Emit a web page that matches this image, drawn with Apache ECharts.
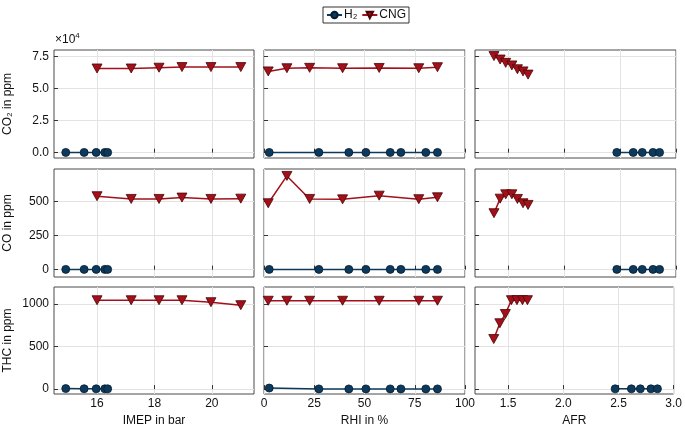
<!DOCTYPE html>
<html>
<head>
<meta charset="utf-8">
<script src="https://cdn.jsdelivr.net/npm/echarts@6/dist/echarts.min.js"></script>
<style>html,body{margin:0;padding:0;background:#fff;}#c{width:685px;height:428px;}</style>
</head>
<body>
<div id="c"></div>
<script>
// ---- data ----
const seriesNames = ['H₂', 'CNG'];
const xNames = ['IMEP in bar', 'RHI in %', 'AFR'];
const yNames = ['CO₂ in ppm', 'CO in ppm', 'THC in ppm'];

const xTicksImep = [16, 18, 20];
const xTicksRhi = [0, 25, 50, 75, 100];
const xTicksAfr = [1.5, 2.0, 2.5, 3.0];
const yTicksCO2 = [0, 25000, 50000, 75000];
const yTicksCO = [0, 250, 500];
const yTicksTHC = [0, 500, 1000];

// IMEP sweep
const h2Imep = [14.91, 15.55, 15.97, 16.27, 16.37];
const h2ImepCO2 = [150, 150, 150, 150, 150];
const h2ImepCO = [2, 2, 2, 2, 2];
const h2ImepTHC = [6, 4, 3, 3, 3];
const cngImep = [16.0, 17.19, 18.16, 18.96, 19.97, 21.01];
const cngImepCO2 = [65800, 65800, 66400, 66900, 66900, 66900];
const cngImepCO = [540, 520, 520, 530, 520, 522];
const cngImepTHC = [1046, 1046, 1046, 1046, 1023, 988];

// RHI sweep
const h2Rhi = [2.6, 27.3, 42.2, 50.7, 62.8, 68.1, 80.5, 86.3];
const h2RhiCO2 = [150, 150, 150, 150, 150, 150, 150, 150];
const h2RhiCO = [2, 2, 2, 2, 2, 2, 2, 2];
const h2RhiTHC = [12, 2, 2, 2, 2, 2, 2, 2];
const cngRhi = [2.1, 11.4, 22.7, 39.1, 57.3, 77.0, 86.3];
const cngRhiCO2 = [63500, 66000, 66300, 66000, 66200, 66000, 66800];
const cngRhiCO = [488, 689, 520, 517, 544, 518, 532];
const cngRhiTHC = [1040, 1040, 1040, 1040, 1040, 1040, 1040];

// AFR sweep
const h2Afr = [2.47, 2.617, 2.698, 2.794, 2.853];
const h2AfrCO2 = [150, 150, 150, 150, 150];
const h2AfrCO = [2, 2, 2, 2, 2];
const h2AfrTHC = [3, 3, 3, 3, 3];
const cngAfr = [1.37, 1.425, 1.475, 1.53, 1.58, 1.63, 1.675];
const cngAfrCO2 = [75500, 72800, 70200, 68200, 65200, 63500, 61000];
const cngAfrCO = [415, 522, 554, 554, 520, 488, 476];
const cngAfrTHC = [589, 775, 884, 1047, 1047, 1047, 1047];

// ---- chart ----
const FONT = 'Liberation Sans, Arial, sans-serif';
const H2C = '#0d3a5c', CNGC = '#a3101a';
const cols = [{left: 54, width: 200}, {left: 264, width: 201}, {left: 475, width: 201}];
const rows = [{top: 50, height: 108}, {top: 169, height: 108}, {top: 287, height: 108}];

const xCfg = [
  {min: 14.5, max: 21.47, ticks: xTicksImep, fmt: v => String(v)},
  {min: 0, max: 100, ticks: xTicksRhi, fmt: v => String(v)},
  {min: 1.2, max: 3.0, ticks: xTicksAfr, fmt: v => v.toFixed(1)}
];
const yCfg = [
  {min: -4200, max: 80250, ticks: yTicksCO2, fmt: v => (v / 1e4).toFixed(1)},
  {min: -54, max: 740, ticks: yTicksCO, fmt: v => String(v)},
  {min: -58, max: 1202, ticks: yTicksTHC, fmt: v => String(v)}
];

const panelData = [
  [[h2Imep, h2ImepCO2, cngImep, cngImepCO2], [h2Rhi, h2RhiCO2, cngRhi, cngRhiCO2], [h2Afr, h2AfrCO2, cngAfr, cngAfrCO2]],
  [[h2Imep, h2ImepCO, cngImep, cngImepCO], [h2Rhi, h2RhiCO, cngRhi, cngRhiCO], [h2Afr, h2AfrCO, cngAfr, cngAfrCO]],
  [[h2Imep, h2ImepTHC, cngImep, cngImepTHC], [h2Rhi, h2RhiTHC, cngRhi, cngRhiTHC], [h2Afr, h2AfrTHC, cngAfr, cngAfrTHC]]
];

const grid = [], xAxis = [], yAxis = [], series = [];
const triDown = 'path://M0,0 L10,0 L5,9 Z';
let k = 0;
for (let r = 0; r < 3; r++) {
  for (let c = 0; c < 3; c++) {
    grid.push({left: cols[c].left, width: cols[c].width, top: rows[r].top, height: rows[r].height,
      show: true, borderColor: '#4a4a4a', borderWidth: 1, backgroundColor: '#fff'});
    const xc = xCfg[c], yc = yCfg[r];
    xAxis.push({
      type: 'value', gridIndex: k, min: xc.min, max: xc.max,
      name: r === 2 ? xNames[c] : '', nameLocation: 'middle', nameGap: 21,
      nameTextStyle: {fontFamily: FONT, fontSize: 12, color: '#111'},
      axisLine: {show: false},
      axisTick: {show: true, inside: true, length: 4, lineStyle: {color: '#333'}, customValues: xc.ticks},
      axisLabel: {show: r === 2, customValues: xc.ticks, formatter: xc.fmt, fontFamily: FONT, fontSize: 12, color: '#111', margin: 4},
      splitLine: {show: true, lineStyle: {color: '#e3e3e3', width: 1}}
    });
    yAxis.push({
      type: 'value', gridIndex: k, min: yc.min, max: yc.max,
      name: c === 0 ? yNames[r] : '', nameLocation: 'middle', nameGap: 40, nameRotate: 90,
      nameTextStyle: {fontFamily: FONT, fontSize: 12, color: '#111'},
      axisLine: {show: false},
      axisTick: {show: true, inside: true, length: 4, lineStyle: {color: '#333'}, customValues: yc.ticks},
      axisLabel: {show: c === 0, customValues: yc.ticks, formatter: yc.fmt, fontFamily: FONT, fontSize: 12, color: '#111', margin: 5},
      splitLine: {show: true, lineStyle: {color: '#e3e3e3', width: 1}}
    });
    const d = panelData[r][c];
    series.push({
      name: seriesNames[0], type: 'line', xAxisIndex: k, yAxisIndex: k,
      data: d[0].map((x, i) => [x, d[1][i]]),
      symbol: 'circle', symbolSize: 8, color: H2C,
      itemStyle: {color: H2C, borderColor: '#051c30', borderWidth: 0.8},
      lineStyle: {color: H2C, width: 1.5}, z: 3
    });
    series.push({
      name: seriesNames[1], type: 'line', xAxisIndex: k, yAxisIndex: k,
      data: d[2].map((x, i) => [x, d[3][i]]),
      symbol: triDown, symbolSize: [10, 9], color: CNGC,
      itemStyle: {color: CNGC, borderColor: '#4a0508', borderWidth: 0.8},
      lineStyle: {color: CNGC, width: 1.5}, z: 4
    });
    k++;
  }
}

const chart = echarts.init(document.getElementById('c'), null, {renderer: 'canvas'});
chart.setOption({
  animation: false,
  backgroundColor: '#fff',
  textStyle: {fontFamily: FONT},
  legend: {
    data: seriesNames, left: 323, top: 7,
    orient: 'horizontal', itemWidth: 15, itemHeight: 8, itemGap: 4,
    padding: [2, 3], borderColor: '#333', borderWidth: 1,
    textStyle: {fontFamily: FONT, fontSize: 12, color: '#111', padding: [0, 0, 0, -3]}
  },
  graphic: [{
    type: 'text', left: 55, top: 32,
    style: {
      text: '×10{s|4}', fontFamily: FONT, fontSize: 12, fill: '#111',
      rich: {s: {fontSize: 8, verticalAlign: 'top', padding: [0, 0, 8, 0], fontFamily: FONT}}
    }
  }],
  grid, xAxis, yAxis, series
});
</script>
</body>
</html>
